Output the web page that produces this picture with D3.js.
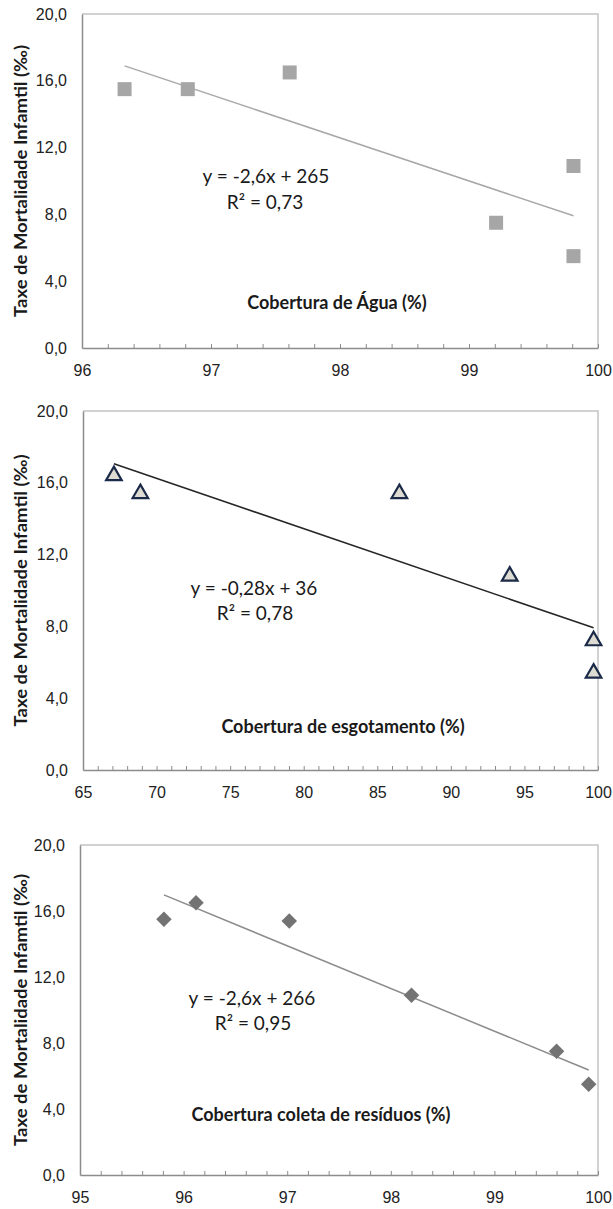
<!DOCTYPE html>
<html>
<head>
<meta charset="utf-8">
<script src="https://cdn.jsdelivr.net/npm/d3@7/dist/d3.min.js"></script>
<style>
  body { margin: 0; background: #fff; }
  svg { display: block; font-family: Lato, 'Open Sans', sans-serif; }
</style>
</head>
<body>
<div id="chart"></div>
<script>
// values
var aguaX = [96.33, 96.82, 97.61, 99.21, 99.81, 99.81];
var aguaY = [15.5, 15.5, 16.5, 7.5, 10.9, 5.5];
var esgotoX = [67.1, 68.9, 86.5, 94.0, 99.7, 99.7];
var esgotoY = [16.4, 15.4, 15.4, 10.8, 7.2, 5.4];
var residuosX = [95.81, 96.12, 97.02, 98.2, 99.6, 99.91];
var residuosY = [15.5, 16.5, 15.4, 10.9, 7.5, 5.5];

var yTicks = [0, 4, 8, 12, 16, 20];
var aguaTicks = [96, 97, 98, 99, 100];
var esgotoTicks = [65, 70, 75, 80, 85, 90, 95, 100];
var residuosTicks = [95, 96, 97, 98, 99, 100];

var yTitle = 'Taxe de Mortalidade  Infamtil (‰)';
var titles = ['Cobertura de Água (%)', 'Cobertura de esgotamento (%)', 'Cobertura coleta de resíduos (%)'];
var equations = ['y = -2,6x + 265', 'y = -0,28x + 36', 'y = -2,6x + 266'];
var r2 = ['R² = 0,73', 'R² = 0,78', 'R² = 0,95'];

var width = 613, height = 1209;

var svg = d3.select('#chart').append('svg')
    .attr('width', width)
    .attr('height', height);

var charts = [
  { xs: aguaX, ys: aguaY, ticks: aguaTicks, minor: 0.2, box: { l: 82, r: 598, t: 14, b: 348 },
    marker: 'square', line: '#a9a9a9', lineW: 1.5,
    eq: [266, 183], r2: [265, 209], title: [337, 309] },
  { xs: esgotoX, ys: esgotoY, ticks: esgotoTicks, minor: 1, box: { l: 83, r: 598, t: 411, b: 770 },
    marker: 'triangle', line: '#262626', lineW: 1.6,
    eq: [254, 595], r2: [255, 620], title: [343, 733] },
  { xs: residuosX, ys: residuosY, ticks: residuosTicks, minor: 0.2, box: { l: 80, r: 598, t: 845, b: 1175 },
    marker: 'diamond', line: '#8c8c8c', lineW: 1.5,
    eq: [252, 1005], r2: [253, 1030], title: [321, 1121] }
];

var fmt = function(d) { return d3.format('.1f')(d).replace('.', ','); };

charts.forEach(function(c, i) {
  var b = c.box;
  var x = d3.scaleLinear().domain(d3.extent(c.ticks)).range([b.l, b.r]);
  var y = d3.scaleLinear().domain([0, 20]).range([b.b, b.t]);
  var g = svg.append('g');

  // plot border (top/right lighter)
  g.append('path')
      .attr('d', 'M' + b.l + ',' + b.t + 'H' + b.r + 'V' + b.b)
      .attr('fill', 'none')
      .attr('stroke', '#c4c4c4')
      .attr('stroke-width', 1.5);

  // x axis, minor ticks inside
  var minorTicks = d3.range(x.domain()[0], x.domain()[1] + c.minor / 2, c.minor);
  var xAxis = d3.axisBottom(x)
      .tickValues(minorTicks)
      .tickSize(-4)
      .tickSizeOuter(0)
      .tickFormat(function(d) {
        return c.ticks.some(function(t) { return Math.abs(t - d) < 1e-6; }) ? Math.round(d) : '';
      });
  var gx = g.append('g')
      .attr('transform', 'translate(0,' + b.b + ')')
      .call(xAxis);
  gx.select('.domain').attr('stroke', '#8c8c8c').attr('stroke-width', 1.5);
  gx.selectAll('.tick line').attr('stroke', '#8c8c8c');
  gx.selectAll('.tick text')
      .attr('y', 28)
      .attr('dy', 0)
      .attr('fill', '#222')
      .style('font-size', '16px');

  // y axis
  var yAxis = d3.axisLeft(y)
      .tickValues(yTicks)
      .tickSize(0)
      .tickPadding(15)
      .tickFormat(fmt);
  var gy = g.append('g')
      .attr('transform', 'translate(' + b.l + ',0)')
      .call(yAxis);
  gy.select('.domain').attr('stroke', '#8c8c8c').attr('stroke-width', 1.5);
  gy.selectAll('.tick text')
      .attr('fill', '#222')
      .style('font-size', '16px');

  // y title
  g.append('text')
      .attr('transform', 'translate(27,' + (b.t + b.b) / 2 + ') rotate(-90)')
      .attr('text-anchor', 'middle')
      .attr('font-weight', 'bold')
      .attr('fill', '#1a1a1a')
      .attr('textLength', 272)
      .attr('lengthAdjust', 'spacingAndGlyphs')
      .style('font-size', '16.5px')
      .text(yTitle);

  // trend line, least squares over the points
  var pts = c.xs.map(function(v, k) { return [v, c.ys[k]]; });
  var mx = d3.mean(c.xs), my = d3.mean(c.ys);
  var sxy = d3.sum(pts, function(p) { return (p[0] - mx) * (p[1] - my); });
  var sxx = d3.sum(pts, function(p) { return (p[0] - mx) * (p[0] - mx); });
  var slope = sxy / sxx, icpt = my - slope * mx;
  var ext = d3.extent(c.xs);
  g.append('line')
      .attr('x1', x(ext[0])).attr('y1', y(icpt + slope * ext[0]))
      .attr('x2', x(ext[1])).attr('y2', y(icpt + slope * ext[1]))
      .attr('stroke', c.line)
      .attr('stroke-width', c.lineW);

  // markers
  var sym = d3.symbol();
  var mk = g.selectAll('.mk').data(pts).enter().append('path')
      .attr('class', 'mk');
  if (c.marker === 'square') {
    mk.attr('d', sym.type(d3.symbolSquare).size(196)())
      .attr('transform', function(d) { return 'translate(' + x(d[0]) + ',' + y(d[1]) + ')'; })
      .attr('fill', '#a6a6a6');
  } else if (c.marker === 'triangle') {
    mk.attr('d', sym.type(d3.symbolTriangle).size(105)())
      .attr('transform', function(d) { return 'translate(' + x(d[0]) + ',' + y(d[1]) + ')'; })
      .attr('fill', '#dedcd2')
      .attr('stroke', '#1b2a48')
      .attr('stroke-width', 2.2);
  } else {
    mk.attr('d', sym.type(d3.symbolSquare).size(120)())
      .attr('transform', function(d) { return 'translate(' + x(d[0]) + ',' + y(d[1]) + ') rotate(45)'; })
      .attr('fill', '#737373');
  }

  // equation and x title inside the plot
  g.append('text')
      .attr('x', c.eq[0]).attr('y', c.eq[1])
      .attr('text-anchor', 'middle')
      .attr('fill', '#1a1a1a')
      .style('font-size', '19px')
      .text(equations[i]);
  g.append('text')
      .attr('x', c.r2[0]).attr('y', c.r2[1])
      .attr('text-anchor', 'middle')
      .attr('fill', '#1a1a1a')
      .style('font-size', '19px')
      .text(r2[i]);
  g.append('text')
      .attr('x', c.title[0]).attr('y', c.title[1])
      .attr('text-anchor', 'middle')
      .attr('font-weight', 'bold')
      .attr('fill', '#1a1a1a')
      .style('font-size', '18px')
      .text(titles[i]);
});
</script>
</body>
</html>
